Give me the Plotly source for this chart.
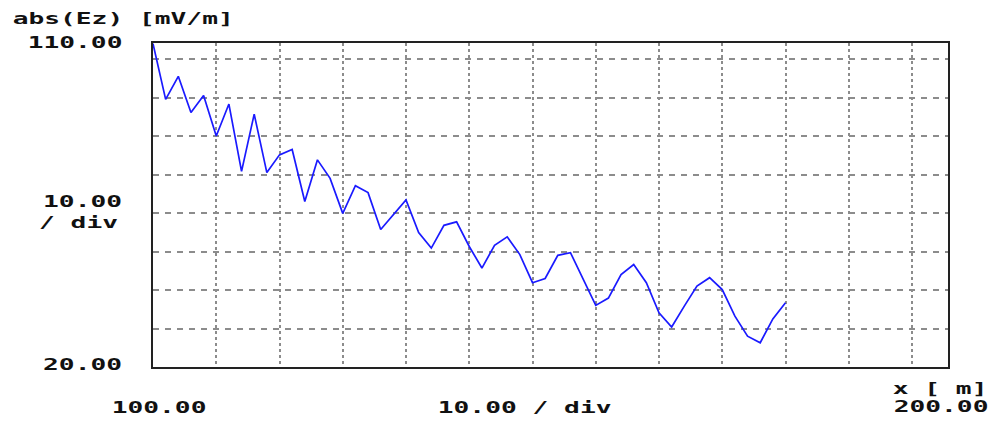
import plotly.graph_objects as go

# Field magnitude along the x path, sampled every 2 m
x_m = [100 + 2 * i for i in range(51)]
abs_ez = [
    104.0, 89.5, 95.5, 86.1, 90.5, 80.0, 88.3, 70.8, 85.7, 70.5,
    75.1, 76.5, 63.0, 73.8, 69.0, 59.9, 67.1, 65.3, 55.7, 59.5,
    63.4, 54.9, 50.9, 56.8, 57.7, 51.3, 45.7, 51.6, 53.8, 49.2,
    41.9, 43.0, 49.0, 49.7, 42.9, 36.0, 37.9, 44.0, 46.6, 41.9,
    34.1, 30.4, 35.8, 41.0, 43.2, 40.1, 33.2, 28.0, 26.3, 32.5,
    36.7,
]

# Axis readouts
y_title = "abs(Ez) [mV/m]"
y_top_label = "110.00"
y_bottom_label = "20.00"
y_div_label = ["10.00", "/ div"]
x_title = "x [ m]"
x_left_label = "100.00"
x_right_label = "200.00"
x_div_label = "10.00 / div"

W, H = 994, 421
L, R, T, B = 153, 46, 43, 54
PW, PH = W - L - R, H - T - B


def paper(px, py):
    return (px - L) / PW, (H - B - py) / PH


FONT = dict(family="DejaVu Sans Mono", size=15, color="#111111", weight="bold")

fig = go.Figure()
fig.add_trace(go.Scatter(
    x=x_m, y=abs_ez, mode="lines",
    line=dict(color="#1a1aff", width=1.7),
    hoverinfo="skip", showlegend=False,
))

labels = [
    (y_title, 122.5, 19),
    (y_top_label, 74.5, 42.5),
    (y_div_label[0], 82.5, 202),
    (y_div_label[1], 78, 223.5),
    (y_bottom_label, 82.5, 364.5),
    (x_title, 940, 389),
    (x_right_label, 940.5, 407),
    (x_left_label, 158.5, 407.5),
    (x_div_label, 524.5, 407.5),
]
for text, px, py in labels:
    xp, yp = paper(px, py)
    fig.add_annotation(text=text, x=xp, y=yp, xref="paper", yref="paper",
                       xanchor="center", yanchor="middle", showarrow=False,
                       font=FONT)

x_span = PW / 6.325
y_span = PH / 3.85
fig.update_xaxes(range=[100, 100 + x_span], tick0=100, dtick=10,
                 showgrid=True, gridcolor="#8c8c8c", gridwidth=1.5, griddash="3px,3px",
                 showticklabels=False, ticks="", zeroline=False,
                 showline=True, mirror=True, linecolor="#222222", linewidth=2)
fig.update_yaxes(range=[20, 20 + y_span], tick0=20, dtick=10,
                 showgrid=True, gridcolor="#8c8c8c", gridwidth=1.5, griddash="6px,6px",
                 showticklabels=False, ticks="", zeroline=False,
                 showline=True, mirror=True, linecolor="#222222", linewidth=2)

fig.update_layout(
    width=W, height=H,
    margin=dict(l=L, r=R, t=T, b=B, pad=0),
    paper_bgcolor="white", plot_bgcolor="white",
)

# Widen the blocky monospace labels horizontally, keeping each centred
stretch = """
document.querySelectorAll('g.annotation text').forEach(function(t){
  t.style.transformBox = 'fill-box';
  t.style.transformOrigin = 'center';
  t.style.transform = 'scaleX(1.75)';
});
"""
fig.write_html("out.html", post_script=stretch, config={"displayModeBar": False})
